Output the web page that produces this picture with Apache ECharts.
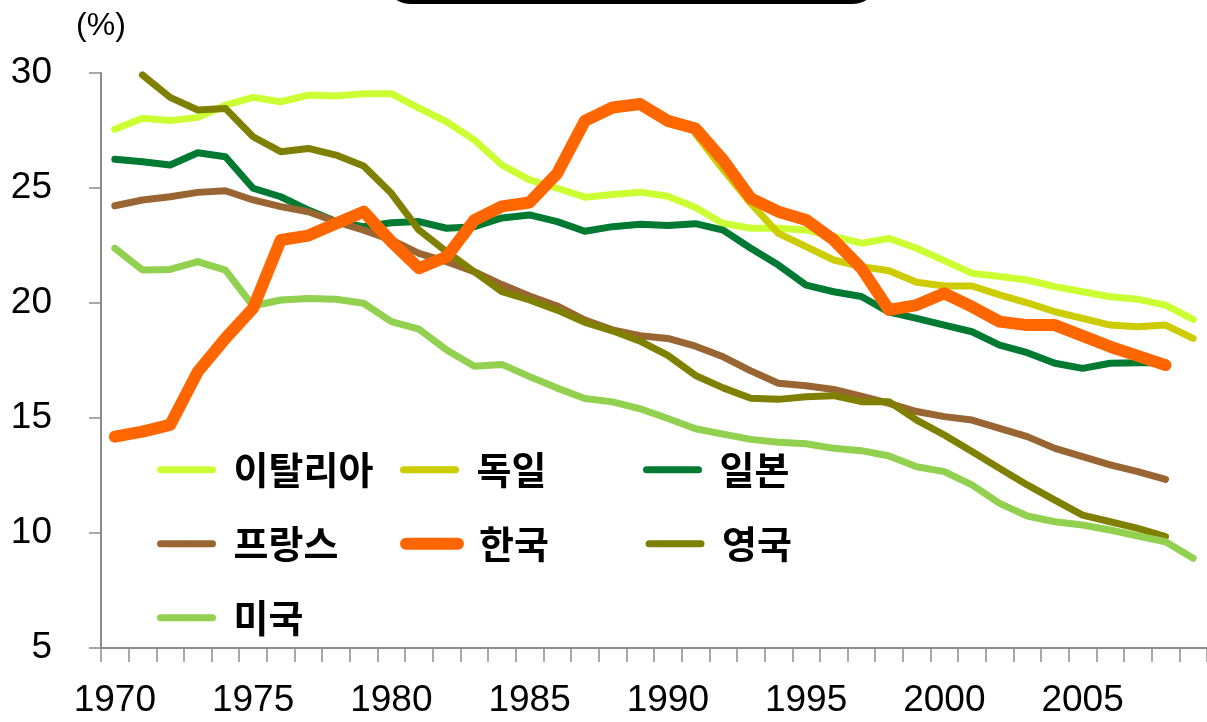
<!DOCTYPE html>
<html>
<head>
<meta charset="utf-8">
<script src="https://cdn.jsdelivr.net/npm/echarts@6/dist/echarts.min.js"></script>
<style>
  html, body { margin: 0; padding: 0; background: #fff; }
  #chart { width: 1207px; height: 722px; }
</style>
</head>
<body>
<div id="chart"></div>
<script>
// 연도 (1970 ~ 2009)
const years = []
for (let y = 1970; y <= 2009; y++) years.push(String(y))

// 값은 그림에서 읽은 추정치 (%)
const italy = [27.55, 28.03, 27.93, 28.07, 28.6, 28.94, 28.75, 29.04, 29.0, 29.1,
  29.1, 28.47, 27.88, 27.09, 26.0, 25.35, 24.99, 24.6, 24.72, 24.82,
  24.64, 24.15, 23.46, 23.25, 23.25, 23.17, 22.9, 22.6, 22.81, 22.38,
  21.84, 21.29, 21.15, 21.0, 20.71, 20.49, 20.27, 20.16, 19.91, 19.29]
const germany = [null, null, null, null, null, null, null, null, null, null,
  null, null, null, null, null, null, null, null, null, null,
  null, 27.35, 25.8, 24.33, 23.03, 22.45, 21.87, 21.58, 21.4, 20.9,
  20.74, 20.74, 20.35, 20.01, 19.62, 19.33, 19.04, 18.97, 19.04, 18.46]
const japan = [26.25, 26.14, 26.0, 26.53, 26.36, 24.99, 24.62, 24.04, 23.54, 23.32,
  23.49, 23.54, 23.25, 23.32, 23.7, 23.83, 23.54, 23.12, 23.32, 23.42,
  23.37, 23.45, 23.17, 22.38, 21.65, 20.78, 20.49, 20.28, 19.6, 19.33,
  19.04, 18.75, 18.17, 17.84, 17.38, 17.16, 17.38, 17.4, 17.4, null]
const france = [24.23, 24.48, 24.62, 24.81, 24.88, 24.48, 24.19, 23.97, 23.54, 23.17,
  22.74, 22.16, 21.8, 21.36, 20.8, 20.3, 19.87, 19.26, 18.83, 18.58,
  18.46, 18.12, 17.66, 17.05, 16.51, 16.4, 16.24, 15.95, 15.64, 15.28,
  15.06, 14.91, 14.55, 14.19, 13.68, 13.32, 12.96, 12.67, 12.33, null]
const korea = [14.19, 14.41, 14.7, 17.01, 18.46, 19.77, 22.74, 22.93, 23.46, 23.97,
  22.67, 21.51, 22.01, 23.6, 24.2, 24.37, 25.64, 27.92, 28.5, 28.65,
  27.92, 27.59, 26.22, 24.55, 23.97, 23.61, 22.74, 21.51, 19.7, 19.91,
  20.42, 19.84, 19.19, 19.04, 19.04, 18.57, 18.1, 17.7, 17.3, null]
const uk = [null, 29.91, 28.94, 28.39, 28.46, 27.23, 26.58, 26.72, 26.43, 25.96,
  24.77, 23.17, 22.23, 21.36, 20.49, 20.13, 19.69, 19.16, 18.79, 18.34,
  17.72, 16.85, 16.31, 15.86, 15.81, 15.92, 15.97, 15.71, 15.71, 14.91,
  14.26, 13.54, 12.81, 12.09, 11.43, 10.78, 10.49, 10.2, 9.84, null]
const usa = [22.38, 21.43, 21.46, 21.8, 21.43, 19.87, 20.13, 20.2, 20.16, 19.99,
  19.19, 18.86, 17.96, 17.25, 17.33, 16.8, 16.3, 15.85, 15.7, 15.4,
  14.98, 14.53, 14.3, 14.07, 13.95, 13.88, 13.68, 13.58, 13.35, 12.88,
  12.67, 12.09, 11.29, 10.74, 10.49, 10.35, 10.13, 9.87, 9.62, 8.9]

// 범례 순서
const legendNames = ['이탈리아', '독일', '일본', '프랑스', '한국', '영국', '미국']

// 그리는 순서 (한국이 맨 위)
const lines = [
  { name: '이탈리아', data: italy, color: '#ccff33', width: 7 },
  { name: '독일', data: germany, color: '#cccc00', width: 7 },
  { name: '일본', data: japan, color: '#007a33', width: 7 },
  { name: '프랑스', data: france, color: '#996633', width: 7 },
  { name: '영국', data: uk, color: '#808000', width: 7 },
  { name: '미국', data: usa, color: '#92d050', width: 7 },
  { name: '한국', data: korea, color: '#ff6600', width: 12 }
]

const axisGray = '#8c8c8c'
const numFont = 'Liberation Sans, Arial, sans-serif'
const krFont = 'Noto Sans CJK KR, sans-serif'

const chart = echarts.init(document.getElementById('chart'))

chart.setOption({
  animation: false,
  backgroundColor: '#fff',
  // 위쪽 제목 상자 (잘린 부분만 보임)
  graphic: [{
    type: 'rect',
    shape: { x: 385, y: -60, width: 493, height: 62, r: 26 },
    style: { fill: '#fff', stroke: '#000', lineWidth: 4 }
  }],
  grid: { left: 101, top: 73, width: 1115, height: 575 },
  xAxis: {
    type: 'category',
    data: years,
    boundaryGap: true,
    axisLine: { lineStyle: { color: axisGray, width: 2 } },
    axisTick: { show: true, interval: 0, length: 14, lineStyle: { color: axisGray, width: 1.5 } },
    axisLabel: { interval: 4, margin: 34, color: '#000', fontSize: 37, fontFamily: numFont },
    splitLine: { show: false }
  },
  yAxis: {
    type: 'value',
    min: 5,
    max: 30,
    interval: 5,
    name: '(%)',
    nameLocation: 'end',
    nameGap: 31,
    nameTextStyle: { color: '#000', fontSize: 32, fontFamily: numFont },
    axisLine: { show: true, lineStyle: { color: axisGray, width: 2 } },
    axisTick: { show: true, length: 12, lineStyle: { color: axisGray, width: 1.5 } },
    axisLabel: { margin: 49, color: '#000', fontSize: 37, fontFamily: numFont },
    splitLine: { show: false }
  },
  legend: {
    left: 157,
    top: 442,
    width: 740,
    padding: 0,
    itemWidth: 52,
    itemHeight: 2,
    itemGap: 18.5,
    selectedMode: false,
    lineStyle: { cap: 'round' },
    textStyle: {
      color: '#000', fontSize: 38, fontWeight: 'bold', fontFamily: krFont,
      width: 148, lineHeight: 47.5, padding: [0, 0, 8, 16]
    },
    data: legendNames.map((n) => {
      const s = lines.find((l) => l.name === n)
      return { name: n, lineStyle: { width: s.width, cap: 'round' } }
    })
  },
  series: lines.map((s) => ({
    name: s.name,
    type: 'line',
    data: s.data,
    symbol: 'none',
    connectNulls: false,
    color: s.color,
    lineStyle: { width: s.width, color: s.color, cap: 'round', join: 'round' }
  }))
})
</script>
</body>
</html>
